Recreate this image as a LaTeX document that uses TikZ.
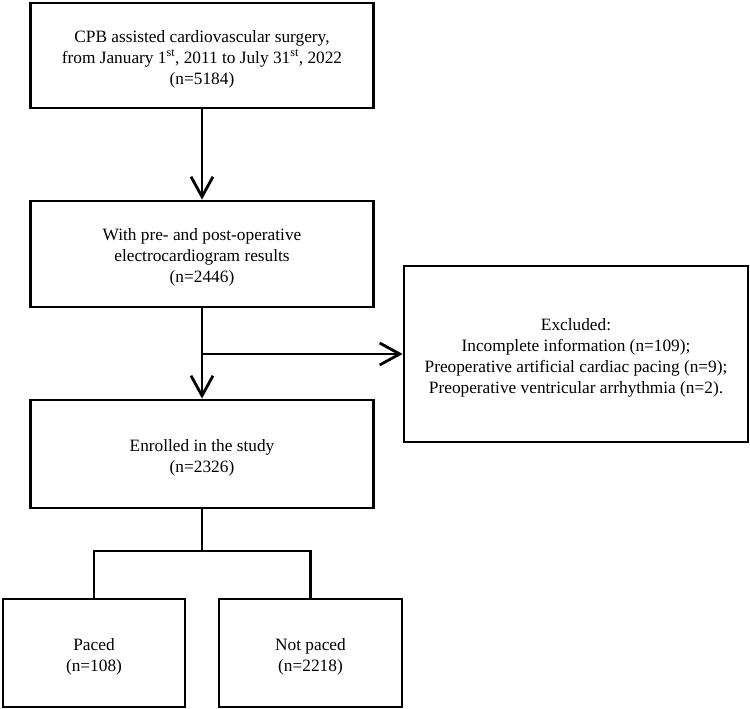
\documentclass[tikz,border=0pt]{standalone}
\usepackage{fontspec}
\setmainfont{Liberation Serif}
\usetikzlibrary{arrows.meta}
\begin{document}
\begin{tikzpicture}[x=1pt,y=-1pt,
  box/.style={draw,line width=2.8pt,inner sep=0pt},
  txt/.style={align=center,inner sep=0pt,font=\fontsize{17.3}{21}\selectfont},
  conn/.style={line width=2.8pt},
  arr/.style={conn,-{Straight Barb[length=20pt,width=22pt]}}]
\useasboundingbox (0,0) rectangle (750,709);
\node[box,minimum width=343pt,minimum height=105pt] (b1) at (202,55.5) {};
\node[box,minimum width=343pt,minimum height=106pt] (b2) at (202,254) {};
\node[box,minimum width=343pt,minimum height=108pt] (b3) at (202,454) {};
\node[box,minimum width=344pt,minimum height=176pt] (ex) at (576,354) {};
\node[box,minimum width=182pt,minimum height=108pt] (b4) at (94,653) {};
\node[box,minimum width=183pt,minimum height=108pt] (b5) at (310.5,653) {};
\node[txt] (t1) at ([yshift=-3.5pt]b1.center)
  {CPB assisted cardiovascular surgery,\\from January 1\textsuperscript{st}, 2011 to July 31\textsuperscript{st}, 2022\\(n=5184)};
\node[txt] (t2) at ([yshift=-3.5pt]b2.center)
  {With pre- and post-operative\\electrocardiogram results\\(n=2446)};
\node[txt] (t3) at ([yshift=-3.5pt]b3.center)
  {Enrolled in the study\\(n=2326)};
\node[txt] (tx) at ([yshift=-3.5pt]ex.center)
  {Excluded:\\Incomplete information (n=109);\\Preoperative artificial cardiac pacing (n=9);\\Preoperative ventricular arrhythmia (n=2).};
\node[txt] (t4) at ([yshift=-3.5pt]b4.center)
  {Paced\\(n=108)};
\node[txt] (t5) at ([yshift=-3.5pt]b5.center)
  {Not paced\\(n=2218)};
\coordinate (k) at (202,354);
\coordinate (j) at (202,551);
\draw[arr] (b1.south) -- (b2.north);
\draw[arr] (b2.south) -- (b3.north);
\draw[arr] (k) -- (ex.west);
\draw[conn] (b3.south) -- (j);
\draw[conn] (b4.north) |- (j) -| (b5.north);
\end{tikzpicture}
\end{document}
